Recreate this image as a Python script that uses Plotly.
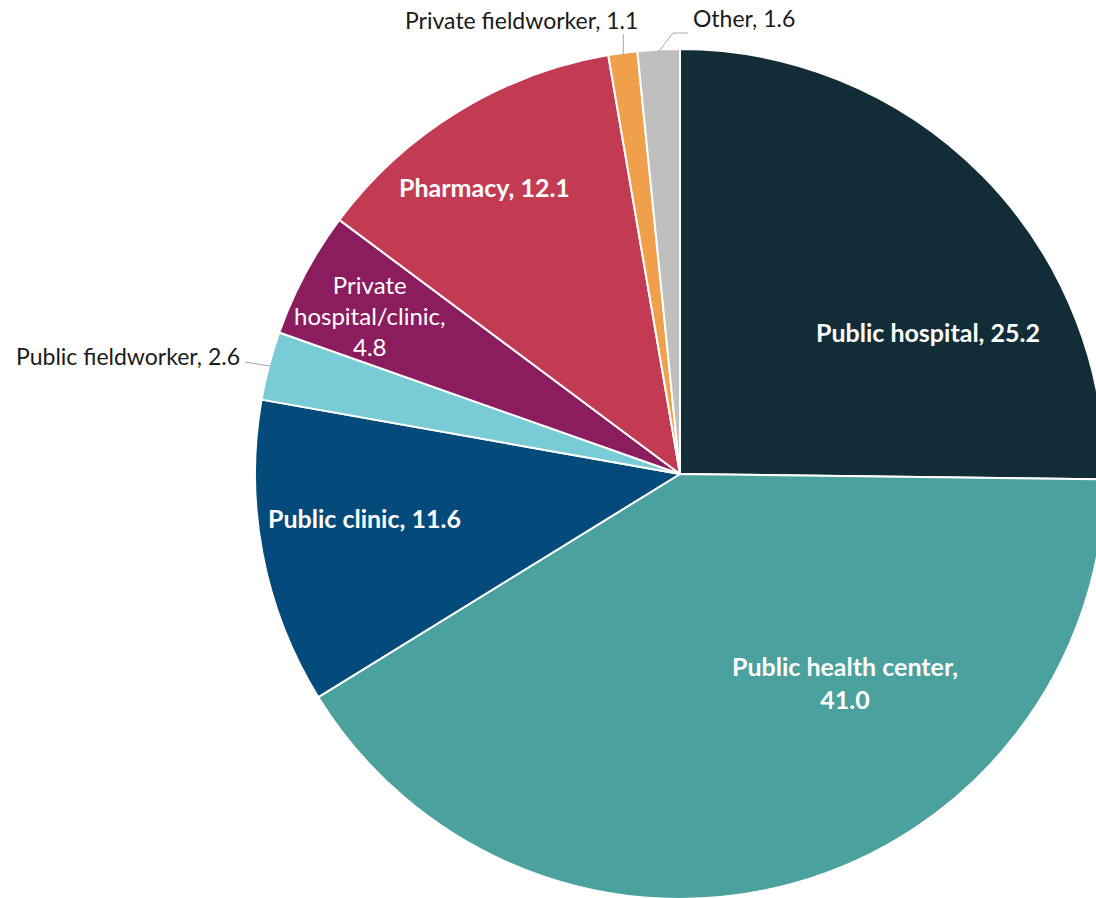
import math
import plotly.graph_objects as go

# Source of care shares (%)
labels = ["Public hospital", "Public health center", "Public clinic", "Public fieldworker",
          "Private hospital/clinic", "Pharmacy", "Private fieldworker", "Other"]
values = [25.2, 41.0, 11.6, 2.6, 4.8, 12.1, 1.1, 1.6]
colors = ["#132d38", "#4aa19e", "#044a7a", "#79ccd5", "#8b1d5f", "#c23b53", "#f0a04b", "#bfbfbf"]

W, H = 1110, 905
CX, CY, R = 680, 474, 425          # pie centre and radius in pixels
FONT = "Lato"


def px(x, y):
    """pixel position -> paper coordinates"""
    return x / W, 1 - y / H


def edge_point(i, r=R):
    """point on the rim at the middle of slice i (clockwise from 12 o'clock)"""
    total = sum(values)
    before = sum(values[:i])
    ang = 2 * math.pi * (before + values[i] / 2) / total
    return CX + r * math.sin(ang), CY - r * math.cos(ang)


x0, y1 = px(CX - R, CY - R)
x1, y0 = px(CX + R, CY + R)

fig = go.Figure(go.Pie(
    labels=labels, values=values, sort=False, direction="clockwise", rotation=0,
    marker=dict(colors=colors, line=dict(color="white", width=2)),
    textinfo="none", hoverinfo="label+value", showlegend=False,
    domain=dict(x=[x0, x1], y=[y0, y1]),
))

annotations = []
shapes = []


def label(text, x, y, color="white", size=25, bold=True, xanchor="center"):
    ax, ay = px(x, y)
    annotations.append(dict(
        text=text, x=ax, y=ay, xref="paper", yref="paper", showarrow=False,
        xanchor=xanchor, yanchor="middle", align="center",
        font=dict(family=FONT, size=size, color=color, weight="bold" if bold else "normal"),
    ))


def vlabel(i):
    return f"{values[i]:.1f}"


# labels inside the larger slices
label(f"{labels[0]}, {vlabel(0)}", 928, 332)
label(f"{labels[1]},<br>{vlabel(1)}", 845, 682)
label(f"{labels[2]}, {vlabel(2)}", 364, 518)
label(f"{labels[5]}, {vlabel(5)}", 484, 187)
label(f"Private<br>hospital/clinic,<br>{vlabel(4)}", 370, 315, bold=False, size=24)

# outside labels with leader lines
dark = "#1a1a1a"
line_col = "#a6a6a6"

# Public fieldworker
ex, ey = edge_point(3, R - 2)
label(f"{labels[3]}, {vlabel(3)}", 242, 356, color=dark, bold=False, size=23, xanchor="right")
sx0, sy0 = px(245, 362)
sx1, sy1 = px(ex, ey)
shapes.append(dict(type="line", xref="paper", yref="paper", x0=sx0, y0=sy0, x1=sx1, y1=sy1,
                   line=dict(color=line_col, width=1)))

# Private fieldworker
ex, ey = edge_point(6, R - 4)
label(f"{labels[6]}, {vlabel(6)}", 640, 20, color=dark, bold=False, size=23, xanchor="right")
sx0, sy0 = px(ex, 34)
sx1, sy1 = px(ex, ey)
shapes.append(dict(type="line", xref="paper", yref="paper", x0=sx0, y0=sy0, x1=sx1, y1=sy1,
                   line=dict(color=line_col, width=1)))

# Other
ex, ey = edge_point(7, R - 2)
label(f"{labels[7]}, {vlabel(7)}", 691, 18, color=dark, bold=False, size=23, xanchor="left")
pts = [(ex, ey), (673, 33), (688, 33)]
path = "M " + " L ".join(f"{px(a, b)[0]},{px(a, b)[1]}" for a, b in pts)
shapes.append(dict(type="path", xref="paper", yref="paper", path=path,
                   line=dict(color=line_col, width=1)))

fig.update_layout(
    width=W, height=H, margin=dict(l=0, r=0, t=0, b=0),
    paper_bgcolor="white", plot_bgcolor="white",
    annotations=annotations, shapes=shapes,
)

fig.write_html(
    "out.html",
    post_script="document.body.style.margin='0';document.body.style.overflow='hidden';"
                "document.documentElement.style.overflow='hidden';",
)
